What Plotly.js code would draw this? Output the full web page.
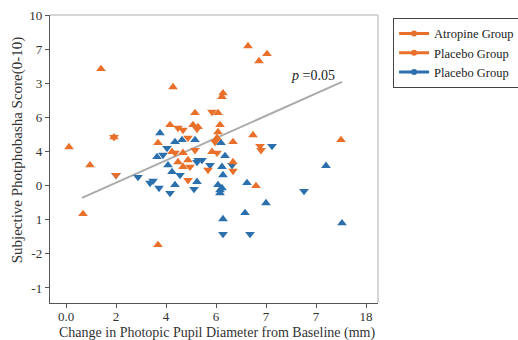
<!DOCTYPE html>
<html>
<head>
<meta charset="utf-8">
<script src="https://cdn.plot.ly/plotly-3.0.1.min.js"></script>
<style>html,body{margin:0;padding:0;background:#fff;}#chart{width:518px;height:340px;}</style>
</head>
<body>
<div id="chart"></div>
<script>
// Tick labels as printed in the reference
const xTickVals = [0, 2, 4, 6, 8, 10, 12];
const xTickText = ['0.0', '2', '4', '6', '7', '7', '18'];
const yTickVals = [0, 1, 2, 3, 4, 5, 6, 7, 8];
const yTickText = ['-1', '-2', '1', '0', '4', '6', '3', '7', '10'];

// Orange, triangle-up (Atropine Group)
const atropineX = [1.40, 4.28, 0.12, 0.96, 1.92, 5.16, 4.16, 5.08, 7.28, 8.04, 7.72, 6.28, 6.24, 6.08, 6.16, 7.48, 6.68, 5.84, 6.68, 11.00, 7.60, 0.68, 3.68, 4.24, 4.68, 4.48, 4.88, 4.68, 3.68, 5.28, 6.04, 6.08];
const atropineY = [6.42, 5.89, 4.13, 3.60, 4.42, 5.13, 4.78, 4.78, 7.09, 6.86, 6.65, 5.71, 5.60, 5.13, 4.78, 4.48, 4.28, 3.99, 3.69, 4.34, 2.99, 2.17, 1.26, 3.99, 3.96, 3.69, 3.75, 3.55, 4.25, 4.72, 4.40, 4.57];

// Orange, triangle-down (Placebo Group, orange)
const placeboOX = [1.92, 2.00, 4.48, 4.68, 5.24, 4.88, 5.84, 5.96, 7.76, 7.80, 5.68, 6.68, 4.36, 4.96, 4.88, 6.04, 5.16];
const placeboOY = [4.42, 3.31, 4.69, 4.63, 4.66, 4.40, 5.16, 4.28, 4.16, 4.04, 3.46, 3.43, 3.96, 3.55, 3.16, 3.96, 4.04];

// Blue, triangle-up (Placebo Group, blue)
const placeboBUpX = [3.76, 4.36, 4.64, 5.16, 3.64, 6.20, 6.24, 6.28, 10.40, 4.24, 4.36, 5.24, 6.08, 6.16, 6.24, 6.16, 7.24, 8.00, 7.16, 6.28, 11.04, 4.08, 6.36];
const placeboBUpY = [4.54, 4.28, 4.34, 4.34, 3.84, 4.25, 3.55, 3.31, 3.58, 3.40, 3.02, 3.11, 3.02, 2.87, 2.93, 2.78, 3.08, 2.49, 2.20, 2.02, 1.90, 3.60, 3.87];

// Blue, triangle-down (Placebo Group, blue)
const placeboBDownX = [4.04, 3.88, 5.24, 5.28, 5.44, 5.76, 6.64, 8.24, 9.52, 2.00, 2.88, 3.36, 3.48, 3.72, 4.16, 4.56, 5.12, 6.28, 7.36];
const placeboBDownY = [4.10, 3.90, 3.69, 3.75, 3.75, 3.60, 3.60, 4.16, 2.84, 3.31, 3.25, 3.08, 3.14, 2.93, 2.78, 3.31, 2.90, 1.58, 1.58];

// Trend line endpoints
const trendX = [0.64, 11.04];
const trendY = [2.64, 6.04];

const legendNames = ['Atropine Group', 'Placebo Group', 'Placebo Group'];

const ORANGE = '#e8702a';
const BLUE = '#2b70ad';
const SERIF = '"Liberation Serif", "Times New Roman", serif';

const ms = 8.5;
const traces = [
  {x: trendX, y: trendY, mode: 'lines', line: {color: '#aaaaaa', width: 2}, showlegend: false, hoverinfo: 'skip'},
  {x: placeboBDownX, y: placeboBDownY, mode: 'markers', marker: {symbol: 'triangle-down', size: ms, color: BLUE}, showlegend: false},
  {x: placeboBUpX, y: placeboBUpY, mode: 'markers', marker: {symbol: 'triangle-up', size: ms, color: BLUE}, showlegend: false},
  {x: placeboOX, y: placeboOY, mode: 'markers', marker: {symbol: 'triangle-down', size: ms, color: ORANGE}, showlegend: false},
  {x: atropineX, y: atropineY, mode: 'markers', marker: {symbol: 'triangle-up', size: ms, color: ORANGE}, showlegend: false},
  {x: [null], y: [null], mode: 'lines+markers', name: legendNames[0], line: {color: ORANGE, width: 3}, marker: {color: ORANGE, size: 6, symbol: 'circle'}},
  {x: [null], y: [null], mode: 'lines+markers', name: legendNames[1], line: {color: ORANGE, width: 3}, marker: {color: ORANGE, size: 6, symbol: 'circle'}},
  {x: [null], y: [null], mode: 'lines+markers', name: legendNames[2], line: {color: BLUE, width: 3}, marker: {color: BLUE, size: 6, symbol: 'circle'}}
];

const layout = {
  width: 518, height: 340,
  margin: {l: 50, r: 140, t: 15, b: 37, autoexpand: false},
  paper_bgcolor: '#fff', plot_bgcolor: '#fff',
  font: {family: SERIF, size: 13, color: '#333'},
  xaxis: {
    range: [-0.64, 12.48], tickvals: xTickVals, ticktext: xTickText, automargin: false,
    showgrid: false, zeroline: false, showline: true, linecolor: '#555', linewidth: 1.2,
    ticks: 'outside', ticklen: 4, tickcolor: '#555', ticklabelstandoff: -3,
    tickfont: {family: SERIF, size: 13, color: '#333'}
  },
  yaxis: {
    range: [-0.44, 8.0], tickvals: yTickVals, ticktext: yTickText, automargin: false,
    showgrid: false, zeroline: false, showline: true, linecolor: '#555', linewidth: 1.2,
    ticks: 'outside', ticklen: 4, tickcolor: '#555',
    tickfont: {family: SERIF, size: 13, color: '#333'}
  },
  shapes: [
    {type: 'line', xref: 'paper', yref: 'paper', x0: 0, x1: 1, y0: 1, y1: 1, line: {color: '#c8c8c8', width: 1.5}},
    {type: 'line', xref: 'paper', yref: 'paper', x0: 1, x1: 1, y0: 0, y1: 1, line: {color: '#c8c8c8', width: 1.5}}
  ],
  annotations: [
    {x: 11.04, y: 6.04, xref: 'x', yref: 'y', text: '<i>p</i> =0.05', showarrow: false, xanchor: 'right', yanchor: 'middle', xshift: -5, yshift: 6, font: {family: SERIF, size: 14, color: '#222'}},
    {x: 0.51, y: 0, xref: 'paper', yref: 'paper', text: 'Change in Photopic Pupil Diameter from Baseline (mm)', showarrow: false, xanchor: 'center', yanchor: 'middle', yshift: -30, font: {family: SERIF, size: 14, color: '#333'}},
    {x: 0, y: 0.53, xref: 'paper', yref: 'paper', text: 'Subjective Photphobasha Score(0-10)', showarrow: false, textangle: -90, xanchor: 'center', yanchor: 'middle', xshift: -33, font: {family: SERIF, size: 15, color: '#333'}}
  ],
  legend: {
    x: 1.046, y: 0.99, xanchor: 'left', yanchor: 'top',
    bordercolor: '#444', borderwidth: 1, bgcolor: '#fff',
    font: {family: SERIF, size: 12.5, color: '#222'},
    tracegroupgap: 0, itemwidth: 30
  },
  showlegend: true
};

Plotly.newPlot('chart', traces, layout, {staticPlot: true, displayModeBar: false});
</script>
</body>
</html>
